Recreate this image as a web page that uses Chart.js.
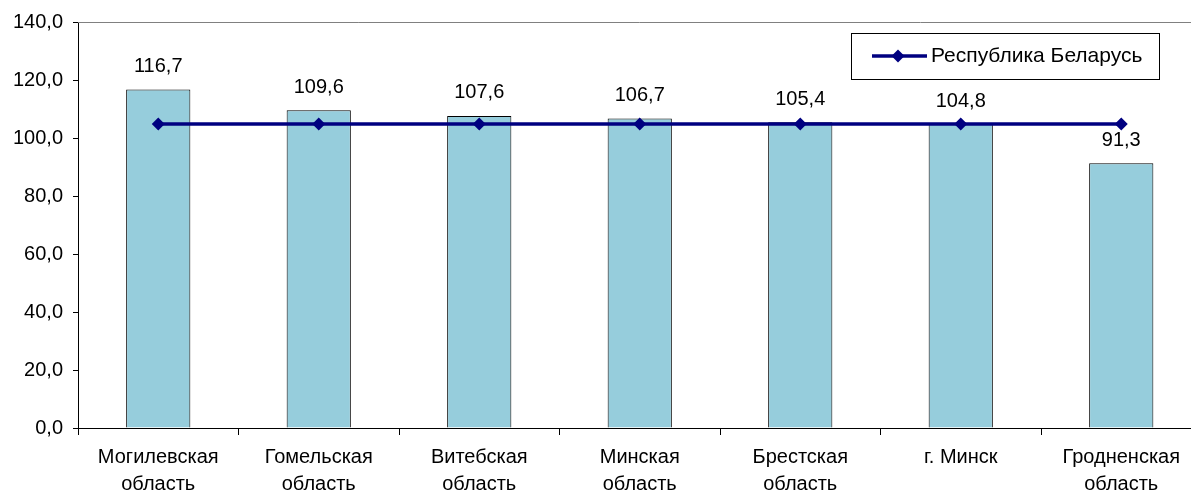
<!DOCTYPE html>
<html>
<head>
<meta charset="utf-8">
<script src="https://cdn.jsdelivr.net/npm/chart.js@4/dist/chart.umd.min.js"></script>
<style>
  html, body { margin: 0; padding: 0; background: #fff; overflow: hidden; }
  #wrap { width: 1208px; height: 492px; }
</style>
</head>
<body>
<div id="wrap"><canvas id="chart" width="1208" height="492"></canvas></div>
<script>
const regions = [
  ['Могилевская', 'область'],
  ['Гомельская', 'область'],
  ['Витебская', 'область'],
  ['Минская', 'область'],
  ['Брестская', 'область'],
  'г. Минск',
  ['Гродненская', 'область']
];
const regionValues = [116.7, 109.6, 107.6, 106.7, 105.4, 104.8, 91.3];
const belarusValues = [104.8, 104.8, 104.8, 104.8, 104.8, 104.8, 104.8];
const belarusLabel = 'Республика Беларусь';

const FONT = '"Liberation Sans", Arial, sans-serif';
Chart.defaults.font.family = FONT;
Chart.defaults.font.size = 20;
Chart.defaults.color = '#000';

function fmt(v) {
  return v.toFixed(1).replace('.', ',');
}

// value labels above bars + top border + legend box inside plot
const decor = {
  id: 'decor',
  afterDatasetsDraw(chart) {
    const ctx = chart.ctx;
    const area = chart.chartArea;
    ctx.save();
    ctx.strokeStyle = '#808080';
    ctx.lineWidth = 1;
    ctx.beginPath();
    ctx.moveTo(area.left, area.top + 0.5);
    ctx.lineTo(area.right, area.top + 0.5);
    ctx.stroke();

    const meta = chart.getDatasetMeta(1);
    ctx.fillStyle = '#000';
    ctx.font = '20px ' + FONT;
    ctx.textAlign = 'center';
    ctx.textBaseline = 'bottom';
    meta.data.forEach((bar, i) => {
      ctx.fillText(fmt(regionValues[i]), bar.x, bar.y - 13);
    });

    // legend
    const lx = 851, ly = 33, lw = 308, lh = 46;
    ctx.fillStyle = '#fff';
    ctx.fillRect(lx, ly, lw, lh);
    ctx.strokeStyle = '#000';
    ctx.lineWidth = 1;
    ctx.strokeRect(lx + 0.5, ly + 0.5, lw, lh);
    ctx.strokeStyle = '#000080';
    ctx.lineWidth = 3.5;
    ctx.beginPath();
    ctx.moveTo(872, 56);
    ctx.lineTo(927, 56);
    ctx.stroke();
    ctx.fillStyle = '#000080';
    ctx.beginPath();
    ctx.moveTo(898, 49.5);
    ctx.lineTo(904.5, 56);
    ctx.lineTo(898, 62.5);
    ctx.lineTo(891.5, 56);
    ctx.closePath();
    ctx.fill();
    ctx.fillStyle = '#000';
    ctx.font = '21px ' + FONT;
    ctx.textAlign = 'left';
    ctx.textBaseline = 'middle';
    ctx.fillText(belarusLabel, 931, 56);
    ctx.restore();
  }
};

new Chart(document.getElementById('chart'), {
  data: {
    labels: regions,
    datasets: [
      {
        type: 'line',
        label: belarusLabel,
        data: belarusValues,
        borderColor: '#000080',
        backgroundColor: '#000080',
        borderWidth: 3.5,
        pointStyle: 'rectRot',
        pointRadius: 6.5,
        pointHoverRadius: 6.5,
        pointBorderWidth: 0,
        order: 0
      },
      {
        type: 'bar',
        label: 'области',
        data: regionValues,
        backgroundColor: '#96CDDC',
        borderColor: '#000',
        borderWidth: 1,
        barPercentage: 0.4,
        categoryPercentage: 1,
        order: 1
      }
    ]
  },
  options: {
    responsive: false,
    animation: false,
    layout: { padding: { top: 22, left: 0, right: 0, bottom: 0 } },
    plugins: { legend: { display: false }, tooltip: { enabled: false } },
    scales: {
      x: {
        offset: true,
        grid: { offset: true, drawOnChartArea: false, drawTicks: true, tickLength: 7, color: '#000' },
        border: { color: '#000', width: 1 },
        ticks: { padding: 9, font: { size: 20, lineHeight: 1.35 }, maxRotation: 0, autoSkip: false },
        afterFit(scale) { scale.height = 64; }
      },
      y: {
        min: 0,
        max: 140,
        ticks: { stepSize: 20, padding: 10, callback: v => fmt(v) },
        grid: { drawOnChartArea: false, drawTicks: true, tickLength: 5, color: '#000' },
        border: { color: '#000', width: 1 },
        afterFit(scale) { scale.width = 78; }
      }
    }
  },
  plugins: [decor]
});
</script>
</body>
</html>
